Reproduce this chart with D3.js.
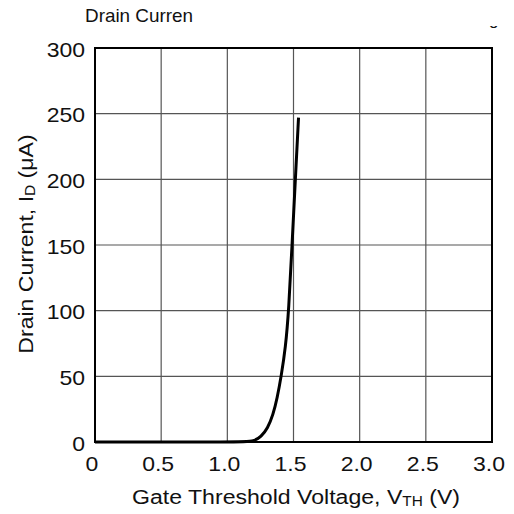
<!DOCTYPE html>
<html>
<head>
<meta charset="utf-8">
<script src="https://cdn.jsdelivr.net/npm/d3@7"></script>
<style>
  body { margin: 0; background: #fff; }
  text { font-family: "Liberation Sans", Arial, sans-serif; fill: #111; }
</style>
</head>
<body>
<div id="chart"></div>
<script>
  // gate threshold voltage (V) vs drain current (uA)
  const vth = [0, 1.12, 1.2, 1.255, 1.305, 1.345, 1.377, 1.407, 1.44, 1.464, 1.489, 1.514, 1.538],
    drain = [0, 0, 0.5, 4, 10.5, 20.5, 33.5, 50, 72, 100, 150, 200, 247],
    xTicks = [0, 0.5, 1.0, 1.5, 2.0, 2.5, 3.0],
    xTickLabels = ["0", "0.5", "1.0", "1.5", "2.0", "2.5", "3.0"],
    yTicks = [0, 50, 100, 150, 200, 250, 300];

  const W = 514, H = 514,
    margin = {top: 48, right: 22, bottom: 72, left: 95},
    width = W - margin.left - margin.right,
    height = H - margin.top - margin.bottom,
    stretch = 1.15; //source type is a bit wider than Liberation Sans

  const svg = d3.select("#chart").append("svg")
      .attr("width", W)
      .attr("height", H);

  const g = svg.append("g")
      .attr("transform", "translate(" + margin.left + "," + margin.top + ")");

  const x = d3.scaleLinear().domain([0, 3]).range([0, width]),
    y = d3.scaleLinear().domain([0, 300]).range([height, 0]);

  //grid
  g.selectAll(".vgrid")
    .data(xTicks.slice(1, -1))
    .enter().append("line")
      .attr("x1", d => x(d)).attr("x2", d => x(d))
      .attr("y1", 0).attr("y2", height)
      .attr("stroke", "#555").attr("stroke-width", 1.2);

  g.selectAll(".hgrid")
    .data(yTicks.slice(1, -1))
    .enter().append("line")
      .attr("x1", 0).attr("x2", width)
      .attr("y1", d => y(d)).attr("y2", d => y(d))
      .attr("stroke", "#555").attr("stroke-width", 1.2);

  //frame
  g.append("rect")
    .attr("width", width).attr("height", height)
    .attr("fill", "none").attr("stroke", "#000").attr("stroke-width", 2);

  //curve
  const pts = vth.map((v, i) => [v, drain[i]]);
  const line = d3.line()
    .x(d => x(d[0]))
    .y(d => y(d[1]))
    .curve(d3.curveBasis);

  g.append("path")
    .datum(pts)
    .attr("d", line)
    .attr("fill", "none")
    .attr("stroke", "#000")
    .attr("stroke-width", 3);

  //tick labels
  g.selectAll(".xlab")
    .data(xTicks)
    .enter().append("text")
      .attr("transform", d => "translate(" + (x(d) - 3) + "," + (height + 29) + ") scale(" + stretch + ",1)")
      .attr("text-anchor", "middle")
      .style("font-size", "20px")
      .text((d, i) => xTickLabels[i]);

  g.selectAll(".ylab")
    .data(yTicks)
    .enter().append("text")
      .attr("transform", d => "translate(-10," + (y(d) + 8.5) + ") scale(" + stretch + ",1)")
      .attr("text-anchor", "end")
      .style("font-size", "20px")
      .text(d => d);

  //axis titles
  const xt = svg.append("text")
    .attr("transform", "translate(" + 296 + ",504) scale(1.1,1)")
    .attr("text-anchor", "middle")
    .style("font-size", "21px");
  xt.append("tspan").text("Gate Threshold Voltage, V");
  xt.append("tspan").attr("font-size", "14px").attr("dy", 2).text("TH");
  xt.append("tspan").attr("dy", -2).text(" (V)");

  const yt = svg.append("text")
    .attr("transform", "translate(33,244) rotate(-90) scale(1.1,1)")
    .attr("text-anchor", "middle")
    .style("font-size", "21px");
  yt.append("tspan").text("Drain Current, I");
  yt.append("tspan").attr("font-size", "14px").attr("dy", 2).text("D");
  yt.append("tspan").attr("dy", -2).text(" (\u03bcA)");

  //title, cut off in the source
  svg.append("text")
    .attr("transform", "translate(85,22) scale(1.05,1)")
    .style("font-size", "18px")
    .text("Drain Curren");

  svg.append("clipPath").attr("id", "cut")
    .append("rect").attr("x", 480).attr("y", 26).attr("width", 30).attr("height", 10);
  svg.append("text")
    .attr("x", 489).attr("y", 25)
    .attr("clip-path", "url(#cut)")
    .style("font-size", "17px")
    .text("g");
</script>
</body>
</html>
